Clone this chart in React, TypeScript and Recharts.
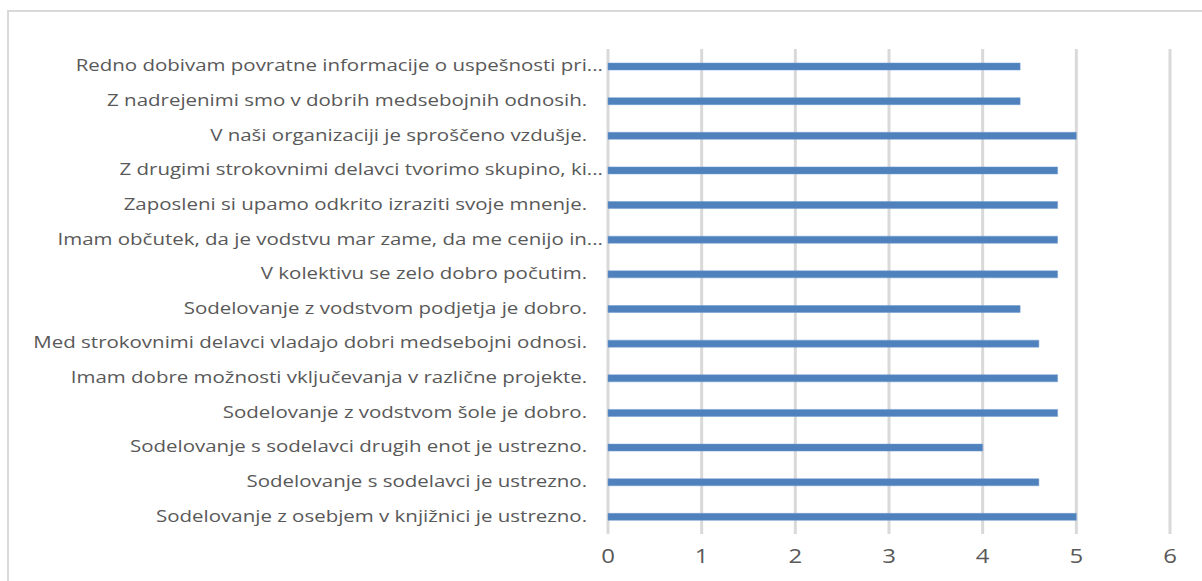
import { BarChart, Bar, XAxis, YAxis, CartesianGrid } from 'recharts';

const categories = [
  'Redno dobivam povratne informacije o uspešnosti pri...',
  'Z nadrejenimi smo v dobrih medsebojnih odnosih.   ',
  'V naši organizaciji je sproščeno vzdušje.   ',
  'Z drugimi strokovnimi delavci tvorimo skupino, ki...',
  'Zaposleni si upamo odkrito izraziti svoje mnenje.   ',
  'Imam občutek, da je vodstvu mar zame, da me cenijo in...',
  'V kolektivu se zelo dobro počutim.   ',
  'Sodelovanje z vodstvom podjetja je dobro.   ',
  'Med strokovnimi delavci vladajo dobri medsebojni odnosi.   ',
  'Imam dobre možnosti vključevanja v različne projekte.   ',
  'Sodelovanje z vodstvom šole je dobro.   ',
  'Sodelovanje s sodelavci drugih enot je ustrezno.   ',
  'Sodelovanje s sodelavci je ustrezno.   ',
  'Sodelovanje z osebjem v knjižnici je ustrezno.   ',
];
const scores = [4.4, 4.4, 5.0, 4.8, 4.8, 4.8, 4.8, 4.4, 4.6, 4.8, 4.8, 4.0, 4.6, 5.0];
const xTicks = [0, 1, 2, 3, 4, 5, 6];

const data = categories.map((name, i) => ({ name, value: scores[i] }));

const FONT = '"Open Sans", sans-serif';
const STRETCH = 1.28;

const CategoryTick = (props: any) => {
  const { x, y, payload } = props;
  return (
    <g transform={`translate(${x + 3},${y}) scale(${STRETCH},1)`}>
      <text
        x={0}
        y={0}
        dy={5}
        textAnchor="end"
        fill="#595959"
        fontSize={16}
        fontFamily={FONT}
        style={{ whiteSpace: 'pre' }}
      >
        {payload.value}
      </text>
    </g>
  );
};

const ValueTick = (props: any) => {
  const { x, y, payload } = props;
  return (
    <g transform={`translate(${x},${y}) scale(1.2,1)`}>
      <text x={0} y={0} dy={21} textAnchor="middle" fill="#595959" fontSize={20} fontFamily={FONT}>
        {payload.value}
      </text>
    </g>
  );
};

export default function App() {
  return (
    <div
      style={{
        position: 'absolute',
        left: 0,
        top: 0,
        width: 1202,
        height: 581,
        overflow: 'hidden',
        background: '#fff',
      }}
    >
      <div
        style={{
          position: 'absolute',
          left: 7,
          top: 10,
          width: 1220,
          height: 620,
          border: '2px solid #d9d9d9',
        }}
      />
      <div style={{ position: 'absolute', left: 0, top: 0 }}>
        <BarChart
          width={1202}
          height={581}
          data={data}
          layout="vertical"
          margin={{ top: 49, right: 32, bottom: 7, left: 0 }}
        >
          <CartesianGrid horizontal={false} stroke="#d9d9d9" strokeWidth={3} />
          <XAxis
            type="number"
            domain={[0, 6]}
            ticks={xTicks}
            axisLine={false}
            tickLine={false}
            height={40}
            tick={<ValueTick />}
            interval={0}
          />
          <YAxis
            type="category"
            dataKey="name"
            width={608}
            axisLine={false}
            tickLine={false}
            interval={0}
            tick={<CategoryTick />}
          />
          <Bar dataKey="value" fill="#4f81bd" stroke="#6f9ad0" strokeWidth={0.5} barSize={7} isAnimationActive={false} />
        </BarChart>
      </div>
    </div>
  );
}
